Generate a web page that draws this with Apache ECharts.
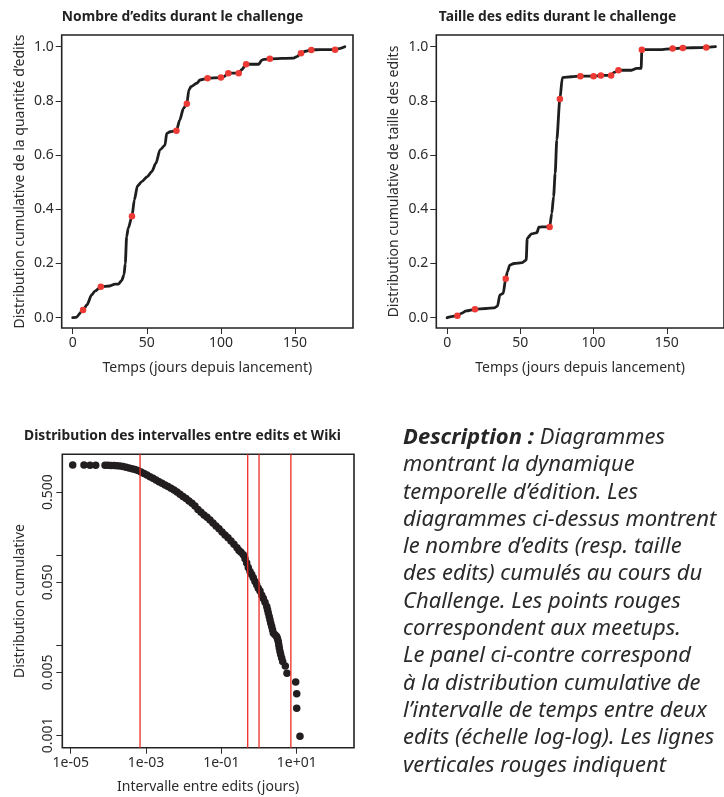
<!DOCTYPE html>
<html>
<head>
<meta charset="utf-8">
<script src="https://cdn.jsdelivr.net/npm/echarts@6/dist/echarts.min.js"></script>
<style>
  html, body { margin: 0; padding: 0; background: #ffffff; }
  #main { width: 724px; height: 797px; }
</style>
</head>
<body>
<div id="main"></div>
<script>
// Cumulative share of edits (count) over the days since launch
const editDays = [0, 2.2, 7, 9.6, 12.8, 15, 19, 25, 28.5, 30.8, 33, 34.6, 35.5, 36.4, 37.5, 40, 41.6, 43.7, 46.6, 50.3, 53.3, 56.2, 58.9, 62.3, 63.4, 65.7, 70, 72.2, 74.8, 77, 78.4, 79.8, 83.7, 85.9, 91, 100, 102.5, 104, 105, 112, 114, 117, 125.5, 127.5, 129, 133, 149, 151.3, 154, 157, 161, 167, 177, 180.5, 183.6];
const editCum = [0, 0.001, 0.028, 0.047, 0.084, 0.098, 0.114, 0.117, 0.124, 0.124, 0.137, 0.158, 0.2, 0.299, 0.33, 0.374, 0.434, 0.486, 0.502, 0.52, 0.539, 0.57, 0.619, 0.637, 0.68, 0.686, 0.69, 0.729, 0.773, 0.789, 0.84, 0.852, 0.865, 0.877, 0.883, 0.886, 0.89, 0.9, 0.902, 0.902, 0.915, 0.935, 0.935, 0.95, 0.953, 0.955, 0.958, 0.963, 0.976, 0.983, 0.988, 0.989, 0.989, 0.994, 1.0];

// Cumulative share of edit size over the same days
const sizeDays = [0, 3, 7, 9.7, 13.1, 19, 26.6, 32.2, 34.4, 36, 38.3, 40, 41.2, 42.8, 45.7, 51.3, 54, 54.7, 57.6, 61.4, 62.6, 64.8, 70, 71.5, 72.7, 73.8, 74.9, 77, 78.7, 85, 91, 100, 105, 112, 114, 117, 126, 129.4, 132.5, 133, 145, 154, 161, 167.6, 177, 183.3];
const sizeCum = [0, 0.004, 0.007, 0.016, 0.025, 0.031, 0.034, 0.036, 0.043, 0.084, 0.09, 0.144, 0.17, 0.194, 0.2, 0.203, 0.213, 0.293, 0.309, 0.314, 0.334, 0.335, 0.335, 0.385, 0.447, 0.533, 0.656, 0.807, 0.886, 0.889, 0.891, 0.891, 0.894, 0.894, 0.905, 0.913, 0.913, 0.92, 0.92, 0.989, 0.989, 0.993, 0.995, 0.996, 0.997, 1.0];

// Meetup days and the cumulative values reached on those days
const meetupDays = [7, 19, 40, 70, 77, 91, 100, 105, 112, 117, 133, 154, 161, 177];
const editMeetupCum = [0.028, 0.114, 0.374, 0.69, 0.789, 0.883, 0.886, 0.902, 0.902, 0.935, 0.955, 0.976, 0.988, 0.989];
const sizeMeetupCum = [0.007, 0.031, 0.144, 0.335, 0.807, 0.891, 0.891, 0.894, 0.894, 0.913, 0.989, 0.993, 0.995, 0.997];

// Interval between consecutive edits (days) and its complementary cumulative share
const gapDays = [1.13e-5, 2.25e-5, 3.25e-5, 4.61e-5, 8.14e-5, 9.77e-5, 1.175e-4, 1.41e-4, 1.69e-4, 2.04e-4, 2.45e-4, 2.94e-4, 3.53e-4, 4.24e-4, 5.09e-4, 6.12e-4, 7.35e-4, 8.83e-4, 1.06e-3, 1.27e-3, 1.53e-3, 1.84e-3, 2.21e-3, 2.65e-3, 3.19e-3, 3.83e-3, 4.60e-3, 5.52e-3, 6.64e-3, 7.97e-3, 9.57e-3, 1.15e-2, 1.38e-2, 1.66e-2, 1.99e-2, 2.39e-2, 2.88e-2, 3.46e-2, 4.15e-2, 4.99e-2, 5.99e-2, 7.20e-2, 8.65e-2, 0.104, 0.125, 0.150, 0.180, 0.216, 0.260, 0.294, 0.332, 0.382, 0.424, 0.470, 0.518, 0.575, 0.638, 0.704, 0.781, 0.866, 0.955, 1.06, 1.18, 1.30, 1.44, 1.60, 1.68, 1.76, 1.86, 1.95, 2.05, 2.17, 2.28, 2.39, 2.65, 2.94, 3.09, 3.24, 3.34, 3.45, 3.60, 3.76, 3.99, 4.24, 4.98, 5.52, 9.4, 10.0, 10.0, 12.2];
const gapShare = [1.0, 1.0, 0.999, 0.999, 0.998, 0.996, 0.993, 0.99, 0.985, 0.978, 0.966, 0.949, 0.930, 0.913, 0.895, 0.872, 0.840, 0.808, 0.778, 0.744, 0.715, 0.684, 0.655, 0.629, 0.603, 0.580, 0.555, 0.530, 0.504, 0.475, 0.449, 0.425, 0.400, 0.378, 0.352, 0.322, 0.299, 0.280, 0.263, 0.246, 0.228, 0.211, 0.196, 0.181, 0.168, 0.156, 0.144, 0.132, 0.121, 0.113, 0.108, 0.101, 0.091, 0.082, 0.073, 0.066, 0.061, 0.056, 0.051, 0.047, 0.043, 0.040, 0.036, 0.033, 0.030, 0.027, 0.0248, 0.0228, 0.0209, 0.0192, 0.0176, 0.0162, 0.0149, 0.0137, 0.0131, 0.0125, 0.0118, 0.0110, 0.0101, 0.0093, 0.0085, 0.0079, 0.0072, 0.0066, 0.0059, 0.0049, 0.0039, 0.0029, 0.0020, 0.00098];

// Reference durations in days: one minute, half a day, one day, one week
const markerDays = [0.000694, 0.5, 1, 7];

// Axis ranges
const dayRange = [-7.4, 189.1];
const cumRange = [-0.038, 1.043];
const gapRange = [5.98e-6, 332];
const shareRange = [7.29e-4, 1.318];

// Axis ticks and their labels
const dayTicks = [0, 50, 100, 150];
const cumTicks = [0, 0.2, 0.4, 0.6, 0.8, 1.0];
const cumTickLabels = ['0.0', '0.2', '0.4', '0.6', '0.8', '1.0'];
const gapTicks = [1e-5, 1e-3, 1e-1, 10];
const gapTickLabels = ['1e-05', '1e-03', '1e-01', '1e+01'];
const shareTicks = [0.001, 0.005, 0.01, 0.05, 0.1, 0.5];
const shareLabelTicks = [0.001, 0.005, 0.05, 0.5];
const shareTickLabels = ['0.001', '0.005', '0.050', '0.500'];

const descriptionLines = [
  ['Description :', ' Diagrammes'],
  ['', 'montrant la dynamique'],
  ['', 'temporelle d’édition. Les'],
  ['', 'diagrammes ci-dessus montrent'],
  ['', 'le nombre d’edits (resp. taille'],
  ['', 'des edits) cumulés au cours du'],
  ['', 'Challenge. Les points rouges'],
  ['', 'correspondent aux meetups.'],
  ['', 'Le panel ci-contre correspond'],
  ['', 'à la distribution cumulative de'],
  ['', 'l’intervalle de temps entre deux'],
  ['', 'edits (échelle log-log). Les lignes'],
  ['', 'verticales rouges indiquent']
];

const FONT = '"Noto Sans", sans-serif';
const INK = '#2b2b2b';
const LINE = '#1e1e1e';
const RED = '#ee3a34';
const VLINE = '#ec2a24';

function pickLabel(v, ticks, labels, logScale) {
  let best = 0, bestErr = Infinity;
  ticks.forEach((t, i) => {
    const err = logScale ? Math.abs(Math.log10(v) - Math.log10(t)) : Math.abs(v - t);
    if (err < bestErr) { bestErr = err; best = i; }
  });
  return labels[best];
}

const tickStyle = { show: true, length: 6, lineStyle: { color: INK, width: 1 } };
const labelStyle = { fontFamily: FONT, fontSize: 14, color: INK };
const nameStyle = { fontFamily: FONT, fontSize: 14, color: INK };
const titleStyle = { fontFamily: FONT, fontSize: 13.8, fontWeight: 'bold', color: '#222' };

function dayAxis(gi) {
  return {
    type: 'value', gridIndex: gi, min: dayRange[0], max: dayRange[1],
    name: 'Temps (jours depuis lancement)', nameLocation: 'middle', nameGap: 33,
    nameTextStyle: nameStyle,
    axisLine: { show: false, onZero: false },
    axisTick: Object.assign({ customValues: dayTicks }, tickStyle),
    axisLabel: Object.assign({ customValues: dayTicks, margin: 8 }, labelStyle),
    splitLine: { show: false }
  };
}

function cumAxis(gi, title) {
  return {
    type: 'value', gridIndex: gi, min: cumRange[0], max: cumRange[1],
    name: title, nameLocation: 'middle', nameGap: 35, nameRotate: 90,
    nameTextStyle: nameStyle,
    axisLine: { show: false, onZero: false },
    axisTick: Object.assign({ customValues: cumTicks }, tickStyle),
    axisLabel: Object.assign({
      customValues: cumTicks, margin: 8,
      formatter: v => pickLabel(v, cumTicks, cumTickLabels, false)
    }, labelStyle),
    splitLine: { show: false }
  };
}

const gridStyle = { show: true, borderColor: '#222222', borderWidth: 1.6, backgroundColor: 'transparent' };

const zip = (xs, ys) => xs.map((x, i) => [x, ys[i]]);

const richText = descriptionLines.map(([b, r]) => (b ? '{b|' + b + '}' : '') + '{i|' + r + '}').join('\n');

// vertical reference lines across the full height of the interval panel
const markerSeries = markerDays.map(d => ({
  type: 'line', xAxisIndex: 2, yAxisIndex: 2,
  data: [[d, shareRange[0]], [d, shareRange[1]]],
  showSymbol: false, silent: true, z: 4,
  lineStyle: { color: VLINE, width: 1.3, opacity: 1 }
}));

const option = {
  animation: false,
  backgroundColor: '#ffffff',
  title: [
    { text: 'Nombre d’edits durant le challenge', left: 177.5, top: 5, textAlign: 'center', textStyle: titleStyle },
    { text: 'Taille des edits durant le challenge', left: 552.5, top: 5, textAlign: 'center', textStyle: titleStyle },
    { text: 'Distribution des intervalles entre edits et Wiki', left: 177.5, top: 424, textAlign: 'center', textStyle: titleStyle }
  ],
  grid: [
    Object.assign({ left: 61.7, top: 35, width: 291.3, height: 293 }, gridStyle),
    Object.assign({ left: 436.3, top: 35, width: 291.3, height: 293 }, gridStyle),
    Object.assign({ left: 62.3, top: 454.3, width: 291.7, height: 293.4 }, gridStyle)
  ],
  xAxis: [
    dayAxis(0),
    dayAxis(1),
    {
      type: 'log', logBase: 10, gridIndex: 2, min: gapRange[0], max: gapRange[1],
      name: 'Intervalle entre edits (jours)', nameLocation: 'middle', nameGap: 32,
      nameTextStyle: nameStyle,
      axisLine: { show: false, onZero: false },
      axisTick: Object.assign({ customValues: gapTicks }, tickStyle),
      axisLabel: Object.assign({
        customValues: gapTicks, margin: 8,
        formatter: v => pickLabel(v, gapTicks, gapTickLabels, true)
      }, labelStyle),
      splitLine: { show: false }
    }
  ],
  yAxis: [
    cumAxis(0, 'Distribution cumulative de la quantité d’edits'),
    cumAxis(1, 'Distribution cumulative de taille des edits'),
    {
      type: 'log', logBase: 10, gridIndex: 2, min: shareRange[0], max: shareRange[1],
      name: 'Distribution cumulative', nameLocation: 'middle', nameGap: 35, nameRotate: 90,
      nameTextStyle: nameStyle,
      axisLine: { show: false, onZero: false },
      axisTick: Object.assign({ customValues: shareTicks }, tickStyle),
      axisLabel: Object.assign({
        customValues: shareLabelTicks, margin: 7, rotate: 90,
        formatter: v => pickLabel(v, shareLabelTicks, shareTickLabels, true)
      }, labelStyle),
      splitLine: { show: false }
    }
  ],
  series: [
    {
      type: 'line', xAxisIndex: 0, yAxisIndex: 0, data: zip(editDays, editCum),
      showSymbol: false, smooth: 0.25, smoothMonotone: 'x',
      lineStyle: { color: LINE, width: 2.8, cap: 'round', join: 'round' }, z: 2
    },
    {
      type: 'scatter', xAxisIndex: 0, yAxisIndex: 0, data: zip(meetupDays, editMeetupCum),
      symbol: 'circle', symbolSize: 6.5, itemStyle: { color: RED, opacity: 1 }, z: 3
    },
    {
      type: 'line', xAxisIndex: 1, yAxisIndex: 1, data: zip(sizeDays, sizeCum),
      showSymbol: false, smooth: 0.25, smoothMonotone: 'x',
      lineStyle: { color: LINE, width: 2.8, cap: 'round', join: 'round' }, z: 2
    },
    {
      type: 'scatter', xAxisIndex: 1, yAxisIndex: 1, data: zip(meetupDays, sizeMeetupCum),
      symbol: 'circle', symbolSize: 6.5, itemStyle: { color: RED, opacity: 1 }, z: 3
    },
    {
      type: 'scatter', xAxisIndex: 2, yAxisIndex: 2, data: zip(gapDays, gapShare),
      symbol: 'circle', symbolSize: 7.5, itemStyle: { color: '#221e1f', opacity: 1 }, z: 2
    }
  ].concat(markerSeries),
  graphic: [
    {
      type: 'text', left: 403, top: 424,
      style: {
        text: richText,
        fill: '#2a2a2a',
        font: 'italic 22px "Noto Sans", sans-serif',
        lineHeight: 27.3,
        rich: {
          b: { fontFamily: FONT, fontSize: 22, fontStyle: 'italic', fontWeight: 'bold', fill: '#262626', lineHeight: 27.3 },
          i: { fontFamily: FONT, fontSize: 22, fontStyle: 'italic', fontWeight: 'normal', fill: '#2a2a2a', lineHeight: 27.3 }
        }
      }
    }
  ]
};

const chart = echarts.init(document.getElementById('main'), null, { renderer: 'canvas' });
chart.setOption(option);
</script>
</body>
</html>
